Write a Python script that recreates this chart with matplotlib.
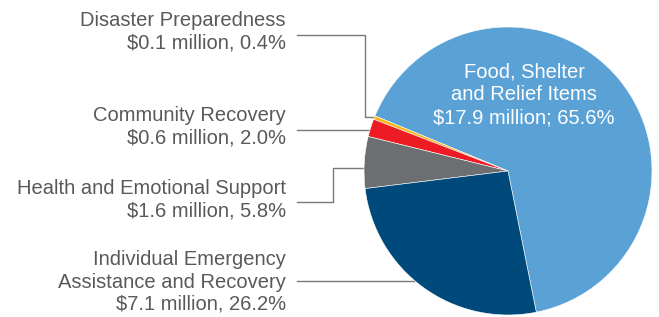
import matplotlib
matplotlib.use("Agg")
import matplotlib.pyplot as plt

plt.rcParams["font.family"] = ["Liberation Sans", "DejaVu Sans"]

# slices, in drawing order (counter-clockwise)
categories = [
    "Food, Shelter\nand Relief Items",
    "Disaster Preparedness",
    "Community Recovery",
    "Health and Emotional Support",
    "Individual Emergency\nAssistance and Recovery",
]
amounts = [17.9, 0.1, 0.6, 1.6, 7.1]          # $ million
shares = [65.6, 0.4, 2.0, 5.8, 26.2]          # percent
colors = ["#5aa1d6", "#fdb515", "#ed1c24", "#6d6e71", "#004a7b"]

W, H = 659, 317
fig = plt.figure(figsize=(W / 100, H / 100), dpi=100)
ax = fig.add_axes([0, 0, 1, 1])

cx, cy, r = 508, H - 171, 144
start = 157.5 - shares[0] * 3.6
ax.pie(shares, colors=colors, startangle=start, counterclock=True,
       center=(cx, cy), radius=r, frame=True,
       wedgeprops=dict(linewidth=0.4, edgecolor="white"))
ax.set_xlim(0, W)
ax.set_ylim(0, H)
ax.set_aspect("auto")
ax.axis("off")

txt_color = "#58595b"
line_color = "#7a7a7a"
fs = 14.5

# big slice label inside the pie
ax.text(524, H - 95, f"{categories[0]}\n${amounts[0]} million; {shares[0]}%",
        ha="center", va="center", color="white", fontsize=fs, linespacing=1.24)

# outside labels: (index, y of block centre in px, leader path)
outside = [
    (1, 31.5, [(297, 35), (365, 35), (365, 117), (377, 117)]),
    (2, 127, [(297, 130), (373, 130)]),
    (3, 199.5, [(297, 202), (333, 202), (333, 168), (366, 168)]),
    (4, 282, [(297, 281), (414, 281)]),
]
for i, yc, path in outside:
    ax.text(286, H - yc, f"{categories[i]}\n${amounts[i]} million, {shares[i]}%",
            ha="right", va="center", color=txt_color, fontsize=fs,
            linespacing=1.22)
    xs = [p[0] for p in path]
    ys = [H - p[1] for p in path]
    ax.plot(xs, ys, color=line_color, linewidth=1.0, zorder=0)

fig.savefig("out.png", dpi=100)
